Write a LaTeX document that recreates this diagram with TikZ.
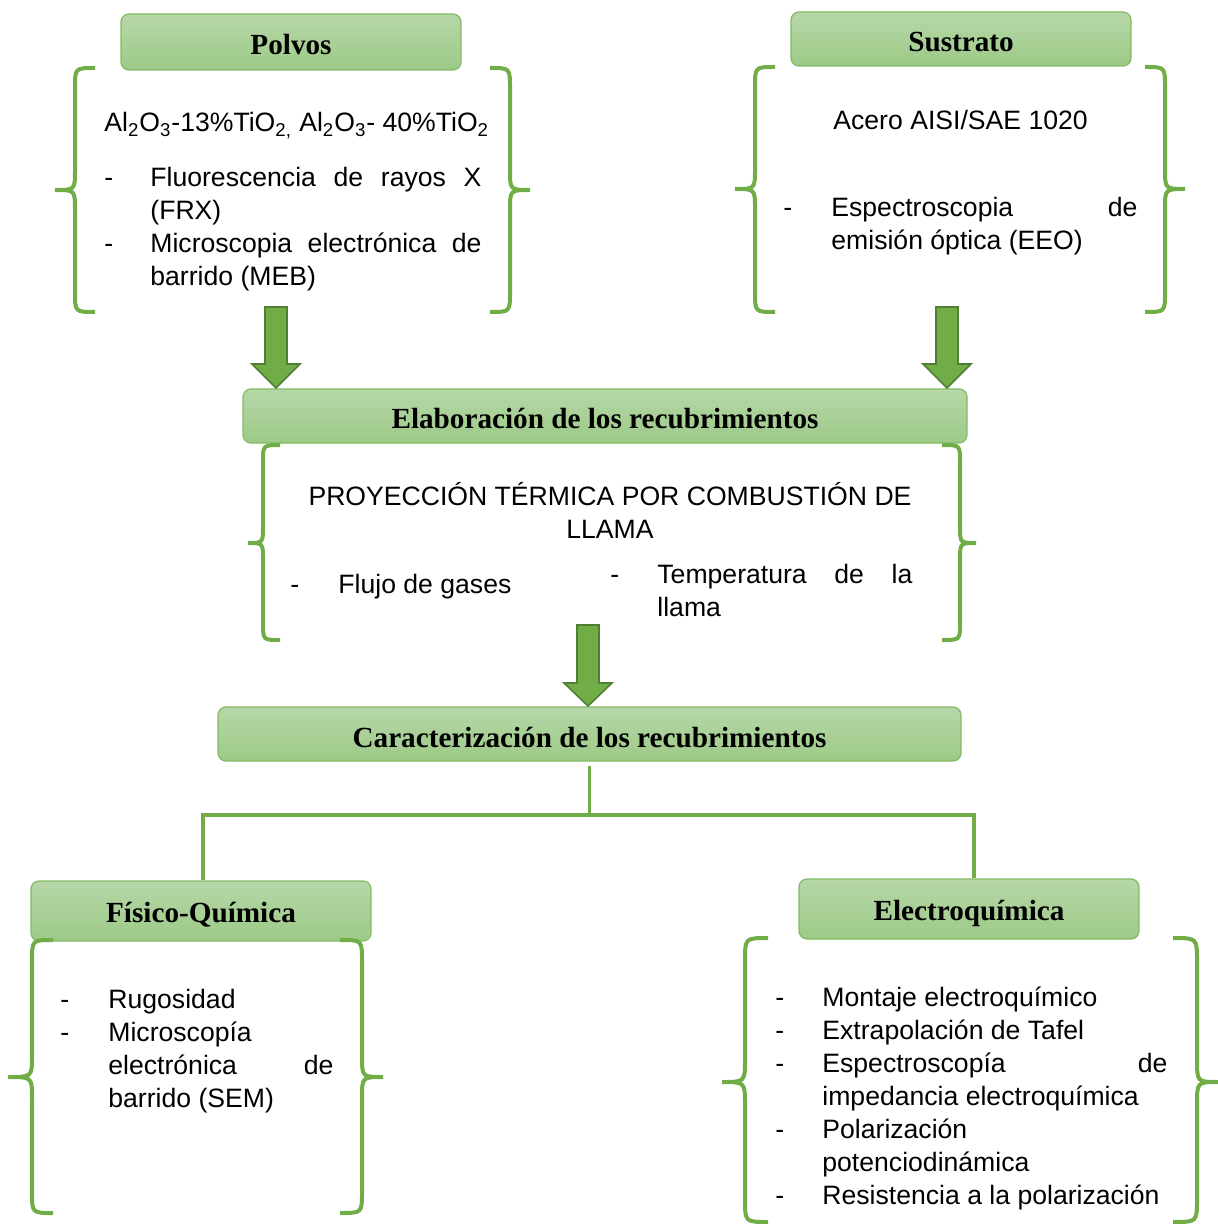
\documentclass[tikz,border=0pt]{standalone}
\usepackage{fontspec}
\setmainfont{Liberation Sans}
\newfontfamily\hdrfont{Liberation Serif}
\definecolor{grn}{RGB}{112,173,71}
\definecolor{grndark}{RGB}{80,126,50}
\definecolor{hdtop}{RGB}{182,215,168}
\definecolor{hdbot}{RGB}{157,202,135}
\definecolor{hdline}{RGB}{130,186,100}
\tikzset{
 hdr/.style={draw=hdline, line width=0.6pt, rounded corners=4pt, top color=hdtop, bottom color=hdbot,
   font=\hdrfont\bfseries\fontsize{14.6}{17}\selectfont, inner sep=0pt, text height=13.5pt, text depth=0.5pt},
 hdrlow/.style={hdr, text height=11.5pt, text depth=0.5pt},
 txt/.style={font=\fontsize{13.3}{16.5}\selectfont, inner sep=0pt, anchor=base west},
 txtc/.style={font=\fontsize{13.3}{16.5}\selectfont, inner sep=0pt, anchor=base},
 bracestyle/.style={draw=grn, line width=2pt},
 blockarrow/.style={fill=grn, draw=grndark, line width=0.8pt},
 conn/.style={draw=grn, line width=1.6pt},
}
% xtip, xv, xend, ytop, ytip, ybot, radius
\newcommand\curlybrace[7]{%
 \draw[bracestyle] (#3,#4) .. controls (#2,#4) .. (#2,#4+#7) -- (#2,#5-#7)
   .. controls (#2,#5) .. (#1,#5) .. controls (#2,#5) .. (#2,#5+#7)
   -- (#2,#6-#7) .. controls (#2,#6) .. (#3,#6);}
% xc, ytop, ybase, ytip
\newcommand\blockdown[4]{%
 \draw[blockarrow] (#1-11,#2) -- (#1+11,#2) -- (#1+11,#3) -- (#1+24,#3) -- (#1,#4)
   -- (#1-24,#3) -- (#1-11,#3) -- cycle;}
\newcommand\tline[4]{\node[txt] (#1) at (#2,#3) {#4};}
\begin{document}
\begin{tikzpicture}[x=0.5pt,y=-0.5pt]
\useasboundingbox (0,0) rectangle (1218,1224);
% headers
\node[hdr, minimum width=170pt, minimum height=28pt] (polvos) at (291,42) {Polvos};
\node[hdr, minimum width=170pt, minimum height=27pt] (sustrato) at (961,39) {Sustrato};
\node[hdr, minimum width=362pt, minimum height=27pt] (elab) at (605,416) {Elaboración de los recubrimientos};
\node[hdr, minimum width=371.5pt, minimum height=27pt] (carac) at (589.5,734) {Caracterización de los recubrimientos};
\node[hdrlow, minimum width=170pt, minimum height=30pt] (fis) at (201,911) {Físico-Química};
\node[hdrlow, minimum width=170pt, minimum height=30pt] (elec) at (969,909) {Electroquímica};
% braces
\curlybrace{55}{75}{95}{68}{190}{312}{20}
\curlybrace{530}{510}{490}{68}{190}{312}{20}
\curlybrace{735}{755}{775}{67}{189}{312}{20}
\curlybrace{1185}{1165}{1145}{67}{189}{312}{20}
\curlybrace{248}{263}{280}{445}{543}{640}{17}
\curlybrace{976}{960}{942}{445}{543}{640}{17}
\curlybrace{8}{32}{53}{940}{1077}{1213}{21}
\curlybrace{383}{362}{340}{940}{1077}{1213}{21}
\curlybrace{722}{745}{768}{938}{1082}{1222}{23}
\curlybrace{1218}{1197}{1173}{938}{1082}{1222}{23}
% block arrows
\blockdown{276}{307}{364}{388}
\blockdown{947}{307}{364}{388}
\blockdown{588}{625}{683}{706}
% connectors
\coordinate (junc) at (589.5,815);
\draw[conn] ([yshift=-2pt]carac.south) -- (junc);
\draw[conn] (junc) -| ([xshift=1pt]fis.north);
\draw[conn] (junc) -| ([xshift=2.5pt]elec.north);
% Polvos text
\tline{pA}{104}{132}{Al\textsubscript{2}O\textsubscript{3}-13\%TiO\textsubscript{2,} Al\textsubscript{2}O\textsubscript{3}- 40\%TiO\textsubscript{2}}
\tline{pd1}{104}{187}{-}
\tline{p1}{150}{187}{\makebox[165.5pt][s]{Fluorescencia de rayos X}}
\tline{p2}{150}{220}{(FRX)}
\tline{pd2}{104}{253}{-}
\tline{p3}{150}{253}{\makebox[165.5pt][s]{Microscopia electrónica de}}
\tline{p4}{150}{286}{barrido (MEB)}
% Sustrato text
\tline{sA}{833}{130}{Acero AISI/SAE 1020}
\tline{sd1}{783}{217}{-}
\tline{s1}{831}{217}{\makebox[153pt][s]{Espectroscopia de}}
\tline{s2}{831}{250}{emisión óptica (EEO)}
% Elaboracion text
\node[txtc] (eA) at (610,505) {PROYECCIÓN TÉRMICA POR COMBUSTIÓN DE};
\node[txtc] (eB) at (610,538) {LLAMA};
\tline{ed1}{290}{593}{-}
\tline{e1}{338}{593}{Flujo de gases}
\tline{ed2}{610}{583}{-}
\tline{e2}{657}{583}{\makebox[127.5pt][s]{Temperatura de la}}
\tline{e3}{657}{616}{llama}
% Fisico text
\tline{fd1}{60}{1008}{-}
\tline{f1}{108}{1008}{Rugosidad}
\tline{fd2}{60}{1041}{-}
\tline{f2}{108}{1041}{Microscopía}
\tline{f3}{108}{1074}{\makebox[112.5pt][s]{electrónica de}}
\tline{f4}{108}{1107}{barrido (SEM)}
% Electro text
\tline{xd1}{775}{1006}{-}
\tline{x1}{822}{1006}{Montaje electroquímico}
\tline{xd2}{775}{1039}{-}
\tline{x2}{822}{1039}{Extrapolación de Tafel}
\tline{xd3}{775}{1072}{-}
\tline{x3}{822}{1072}{\makebox[172.5pt][s]{Espectroscopía de}}
\tline{x4}{822}{1105}{impedancia electroquímica}
\tline{xd4}{775}{1138}{-}
\tline{x5}{822}{1138}{Polarización}
\tline{x6}{822}{1171}{potenciodinámica}
\tline{xd5}{775}{1204}{-}
\tline{x7}{822}{1204}{Resistencia a la polarización}
\end{tikzpicture}
\end{document}
